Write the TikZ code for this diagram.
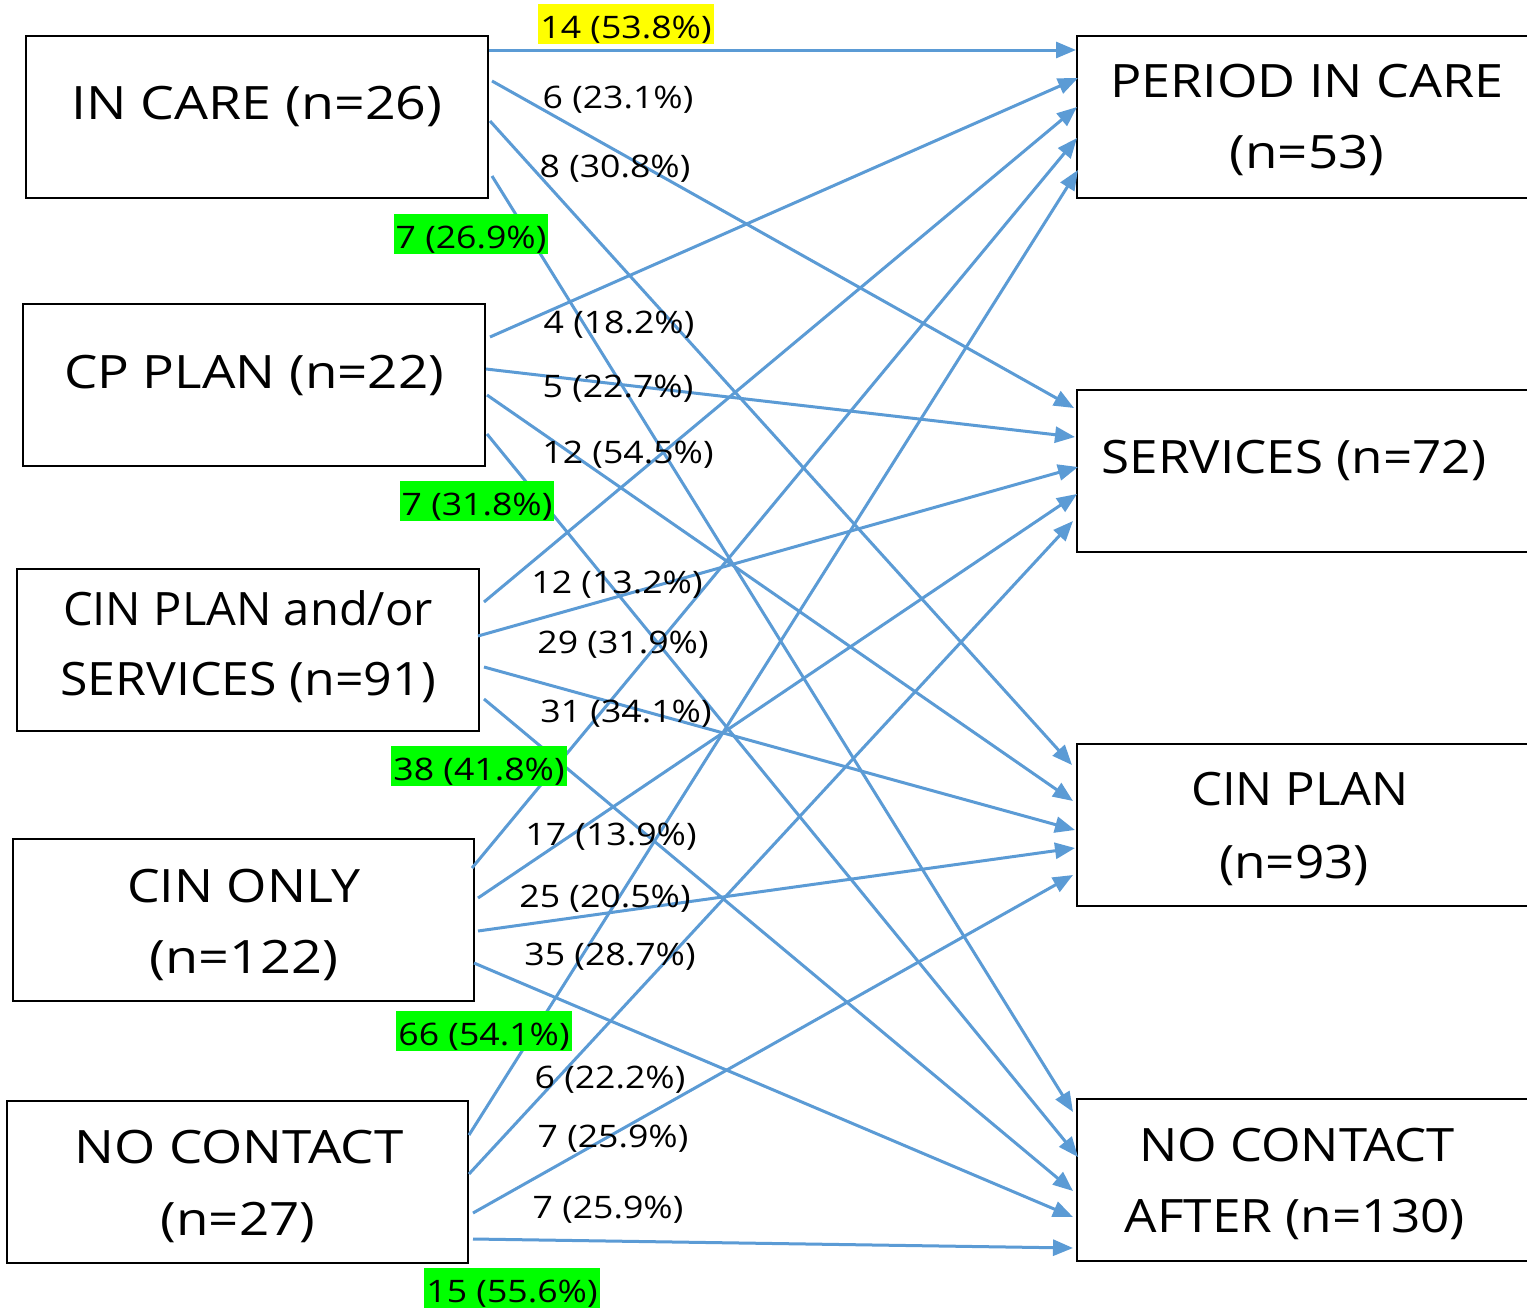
\documentclass[tikz,border=0pt]{standalone}
\usepackage{graphicx}
\usepackage{fontspec}
\setmainfont{Open Sans}[FakeStretch=1.15]
\usetikzlibrary{arrows.meta}
\definecolor{flow}{RGB}{91,155,213}
\definecolor{hlgreen}{RGB}{0,255,0}
\definecolor{hlyellow}{RGB}{255,255,0}
\newcommand\hsqz[2]{\scalebox{#1}[1]{#2}}
\begin{document}
\begin{tikzpicture}[x=1pt,y=-1pt,
  box/.style={draw=black, line width=2pt, inner sep=0pt, outer sep=0pt, minimum width=462pt, minimum height=162pt},
  bigtxt/.style={font=\fontsize{46}{55}\selectfont, inner sep=0pt, anchor=base},
  lbl/.style={font=\fontsize{31}{37}\selectfont, inner sep=0pt, anchor=base},
  hl/.style={lbl, fill=#1, text height=30pt, text depth=2pt, inner xsep=2pt, inner ysep=4pt},
  flowarrow/.style={draw=flow, line width=3pt, -{Triangle[length=20pt,width=16pt]}}]
\useasboundingbox (0,0) rectangle (1527,1309);
\clip (0,0) rectangle (1527,1309);
\fill[white] (0,0) rectangle (1527,1309);

% boxes
\node[box] (incare) at (257,117) {};
\node[box] (cpplan) at (254,385) {};
\node[box] (cinps) at (248,650) {};
\node[box, minimum width=461pt] (cinonly) at (243.5,920) {};
\node[box, minimum width=461pt] (nocont) at (237.5,1182) {};
\node[box, minimum width=460pt] (period) at (1307,117) {};
\node[box, minimum width=460pt] (services) at (1307,471) {};
\node[box, minimum width=460pt] (cinplan) at (1307,825) {};
\node[box, minimum width=460pt] (nca) at (1307,1180) {};

% box texts
\node[bigtxt] (t1) at (257,119) {\hsqz{1.015}{IN CARE (n=26)}};
\node[bigtxt] (t2) at (254,388) {CP PLAN (n=22)};
\node[bigtxt] (t3a) at (248,625) {\hsqz{0.89}{CIN PLAN and/or}};
\node[bigtxt] (t3b) at (248,695) {\hsqz{0.945}{SERVICES (n=91)}};
\node[bigtxt] (t4a) at (244,902) {\hsqz{0.98}{CIN ONLY}};
\node[bigtxt] (t4b) at (244,973) {\hsqz{1.02}{(n=122)}};
\node[bigtxt] (t5a) at (239,1163) {NO CONTACT};
\node[bigtxt] (t5b) at (238,1235) {(n=27)};
\node[bigtxt] (r1a) at (1307,97) {\hsqz{0.985}{PERIOD IN CARE}};
\node[bigtxt] (r1b) at (1307,168) {(n=53)};
\node[bigtxt] (r2) at (1294,473) {\hsqz{0.967}{SERVICES (n=72)}};
\node[bigtxt] (r3a) at (1300,805) {\hsqz{0.93}{CIN PLAN}};
\node[bigtxt] (r3b) at (1294,878) {\hsqz{0.97}{(n=93)}};
\node[bigtxt] (r4a) at (1297,1161) {\hsqz{0.96}{NO CONTACT}};
\node[bigtxt] (r4b) at (1295,1232) {\hsqz{0.97}{AFTER (n=130)}};

% connector end points
\coordinate (sa1) at (489,50);   \coordinate (ea1) at (1076,50);
\coordinate (sa2) at (492,81);   \coordinate (ea2) at (1074,408);
\coordinate (sa3) at (490,121);  \coordinate (ea3) at (1072,765);
\coordinate (sa4) at (492,176);  \coordinate (ea4) at (1073,1112);
\coordinate (sb1) at (490,337);  \coordinate (eb1) at (1078,78);
\coordinate (sb2) at (486,369);  \coordinate (eb2) at (1075,437);
\coordinate (sb3) at (487,395);  \coordinate (eb3) at (1073,801);
\coordinate (sb4) at (487,434);  \coordinate (eb4) at (1078,1157);
\coordinate (sc1) at (484,602);  \coordinate (ec1) at (1077,107);
\coordinate (sc2) at (478,636);  \coordinate (ec2) at (1078,467);
\coordinate (sc3) at (484,667);  \coordinate (ec3) at (1075,830);
\coordinate (sc4) at (484,699);  \coordinate (ec4) at (1073,1191);
\coordinate (sd1) at (472,868);  \coordinate (ed1) at (1077,138);
\coordinate (sd2) at (478,898);  \coordinate (ed2) at (1077,494);
\coordinate (sd3) at (478,931);  \coordinate (ed3) at (1075,848);
\coordinate (sd4) at (474,963);  \coordinate (ed4) at (1073,1217);
\coordinate (se1) at (469,1135); \coordinate (ee1) at (1078,170);
\coordinate (se2) at (469,1174); \coordinate (ee2) at (1073,521);
\coordinate (se3) at (473,1213); \coordinate (ee3) at (1073,875);
\coordinate (se4) at (473,1239); \coordinate (ee4) at (1073,1248);

\foreach \s in {a,b,c,d,e}{
  \foreach \n in {1,2,3,4}{
    \draw[flowarrow] (s\s\n) -- (e\s\n);
  }
}

% labels
\node[hl=hlyellow] (la1) at (626,38) {14 (53.8\%)};
\node[lbl] (la2) at (618,108) {6 (23.1\%)};
\node[lbl] (la3) at (615,177) {8 (30.8\%)};
\node[hl=hlgreen] (la4) at (471,248) {7 (26.9\%)};

\node[lbl] (lb1) at (619,333) {4 (18.2\%)};
\node[lbl] (lb2) at (618,397) {5 (22.7\%)};
\node[lbl] (lb3) at (628,463) {12 (54.5\%)};
\node[hl=hlgreen] (lb4) at (477,515) {7 (31.8\%)};

\node[lbl] (lc1) at (617,593) {12 (13.2\%)};
\node[lbl] (lc2) at (623,653) {29 (31.9\%)};
\node[lbl] (lc3) at (626,722) {31 (34.1\%)};
\node[hl=hlgreen] (lc4) at (479,780) {38 (41.8\%)};

\node[lbl] (ld1) at (611,845) {17 (13.9\%)};
\node[lbl] (ld2) at (605,907) {25 (20.5\%)};
\node[lbl] (ld3) at (610,965) {35 (28.7\%)};
\node[hl=hlgreen] (ld4) at (484,1045) {66 (54.1\%)};

\node[lbl] (le1) at (610,1088) {6 (22.2\%)};
\node[lbl] (le2) at (613,1147) {7 (25.9\%)};
\node[lbl] (le3) at (608,1218) {7 (25.9\%)};
\node[hl=hlgreen] (le4) at (512,1302) {15 (55.6\%)};
\end{tikzpicture}
\end{document}
